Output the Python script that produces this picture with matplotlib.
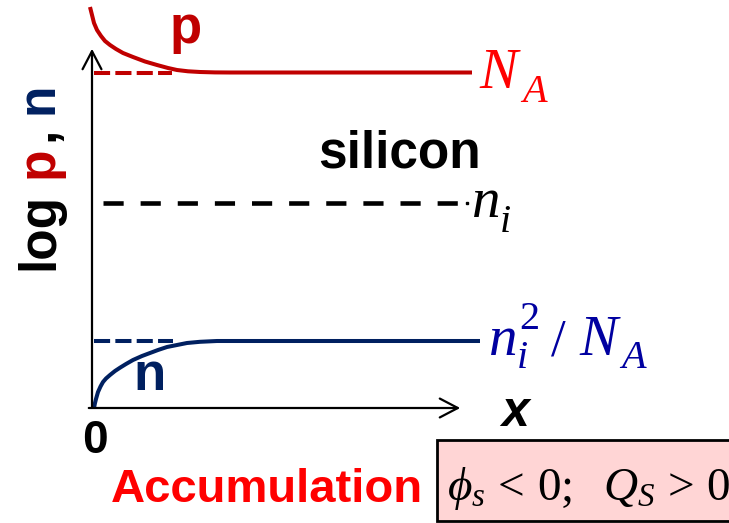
import matplotlib
matplotlib.use("Agg")
import matplotlib.pyplot as plt
from matplotlib.patches import Rectangle

plt.rcParams['mathtext.fontset'] = 'custom'
plt.rcParams['mathtext.it'] = 'Liberation Serif:italic'
plt.rcParams['mathtext.rm'] = 'Liberation Serif'
plt.rcParams['mathtext.sf'] = 'Liberation Serif'

# carrier profiles near the surface (canvas pixels, y grows downward = lower log value)
p_x = [90, 92, 94, 97, 101, 105, 110, 116, 123, 133, 145, 157, 168, 177, 188, 200, 215, 230, 472]
p_y = [7, 15, 23, 30, 36, 41, 45, 49, 53, 57, 61.5, 65, 68, 70, 71.3, 72, 72.4, 72.5, 72.5]
n_x = [94, 95, 96, 98, 100.5, 103, 106, 110, 115, 120, 126, 133, 142, 150, 158, 167, 177, 187, 200, 217, 480]
n_y = [408, 403, 399, 392, 386.5, 382, 378.5, 375, 371, 367.7, 364, 360, 356, 353, 350, 347, 345, 343, 341.8, 341, 341]

# reference levels: NA, ni, ni^2/NA
NA_level = 72.5
ni_level = 203
n0_level = 341

red_dark = '#C00000'
red = '#FF0000'
navy = '#002060'
blue = '#0000A0'

fig = plt.figure(figsize=(7.29, 5.23), dpi=100)
ax = fig.add_axes([0, 0, 1, 1])
ax.set_xlim(0, 729)
ax.set_ylim(523, 0)
ax.axis('off')

# axes arrows
head = '->, head_length=0.65, head_width=0.34'
ax.annotate('', xy=(92, 46), xytext=(92, 410),
            arrowprops=dict(arrowstyle=head, lw=1.6, color='black', mutation_scale=20))
ax.annotate('', xy=(463, 408), xytext=(86, 408),
            arrowprops=dict(arrowstyle=head, lw=1.6, color='black', mutation_scale=20))

# dashed reference levels
ax.plot([94, 172], [NA_level, NA_level], color=red_dark, lw=2.9, dashes=(4.0, 1.3),
        dash_capstyle='butt')
ax.plot([103, 458], [ni_level, ni_level], color='black', lw=3.3, dashes=(4.4, 3.7),
        dash_capstyle='butt')
ax.plot([94, 173], [n0_level, n0_level], color=navy, lw=2.9, dashes=(4.0, 1.3),
        dash_capstyle='butt')

# carrier curves
ax.plot(p_x, p_y, color=red_dark, lw=2.9, solid_capstyle='butt', solid_joinstyle='round')
ax.plot(n_x, n_y, color=navy, lw=2.9, solid_capstyle='butt', solid_joinstyle='round')

sans = 'Liberation Sans'
ax.text(186, 43, 'p', color=red_dark, fontsize=38, fontweight='bold', family=sans,
        ha='center', va='baseline')
ax.text(150, 390, 'n', color=navy, fontsize=38, fontweight='bold', family=sans,
        ha='center', va='baseline')
ax.text(400, 168, 'silicon', color='black', fontsize=37, fontweight='bold', family=sans,
        ha='center', va='baseline')
ax.text(95, 453, '0', color='black', fontsize=33, fontweight='bold', family=sans,
        ha='center', va='baseline')
ax.text(515, 426, 'x', color='black', fontsize=36, fontweight='bold', style='italic',
        family=sans, ha='center', va='baseline')
ax.text(267, 502, 'Accumulation', color=red, fontsize=34, fontweight='bold', family=sans,
        ha='center', va='baseline')

# rotated y label built from coloured pieces
ylab = [('log', 'black', 270), ('p', red_dark, 178), (',', 'black', 141), ('n', navy, 114)]
for s, c, y0 in ylab:
    ax.text(53, y0, s, color=c, fontsize=37, fontweight='bold', family=sans,
            rotation=90, rotation_mode='anchor', ha='left', va='baseline')

# level labels, serif with hand-placed sub/superscripts
serif = 'Liberation Serif'
def it(x, y, s, c, size, style='italic'):
    ax.text(x, y, s, color=c, fontsize=size, family=serif, style=style,
            ha='left', va='baseline')

it(479, 88, 'N', red, 41)
it(522, 102, 'A', red, 29)
it(472, 217, 'n', 'black', 41)
it(500, 232, 'i', 'black', 29)
ax.plot([467], [ni_level], marker='s', ms=1.5, color='black')
it(489, 355, 'n', blue, 41)
it(517, 368, 'i', blue, 29)
it(519, 329, '2', blue, 29, style='normal')
it(551, 355, '/', blue, 38, style='normal')
it(579, 355, 'N', blue, 41)
it(621, 368, 'A', blue, 29)

# surface condition box
ax.add_patch(Rectangle((437, 440), 300, 81, facecolor='#FFD5D5', edgecolor='black', lw=2))
ax.text(447, 500, r'$\phi_{s}\, <\, 0;\ \ Q_{S}\, >\, 0$', color='black', fontsize=34,
        ha='left', va='baseline')

fig.savefig('out.png', dpi=100)
